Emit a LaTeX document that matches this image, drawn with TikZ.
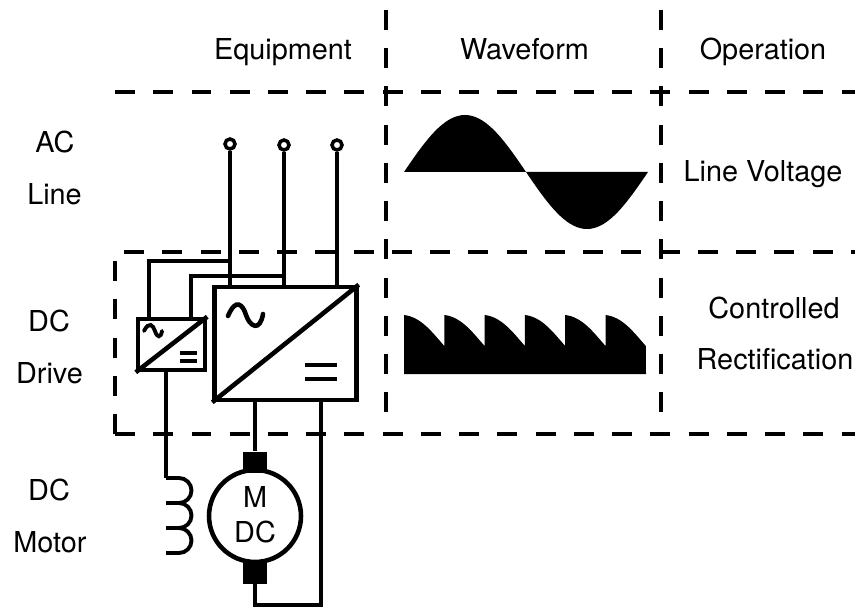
\documentclass[tikz,border=0pt]{standalone}
\usepackage{fontspec}
\setmainfont{TeX Gyre Heros}

\begin{document}
\begin{tikzpicture}
  [
    x=0.02cm,
    y=-0.02cm,
    wire/.style={
      line width=2.2pt
    },
    border/.style={
      line width=2.4pt,
      dash pattern=on 11.34pt off 10.43pt
    },
    converter/.style={
      draw,
      line width=2.6pt,
      inner sep=0pt
    },
    brush/.style={
      fill=black,
      inner sep=0pt,
      minimum width=0.48cm,
      minimum height=0.42cm
    },
    terminal/.style={
      circle,
      draw,
      line width=2pt,
      fill=white,
      inner sep=0pt,
      minimum size=0.2cm
    },
    label/.style={
      font=\fontsize{16.4}{20}\selectfont,
      anchor=base,
      inner sep=0pt
    }
  ]

  \useasboundingbox (0,0) rectangle (855,611);

  \draw [border] (115,92) -- (855,92);
  \draw [border] (115,434) -- (115,252) -- (855,252);
  \draw [border] (115,434) -- (855,434);
  \draw [border] (386,10) -- (386,415);
  \draw [border] (661,10) -- (661,415);

  \node [label] (equipment) at (283,60) {Equipment};
  \node [label] (waveform) at (524.5,60) {Waveform};
  \node [label] (operation) at (763,60) {Operation};
  \node [label] (acname) at (55,153) {AC};
  \node [label] (linename) at (54.5,205) {Line};
  \node [label] (dcname) at (49,331) {DC};
  \node [label] (drivename) at (49.5,383) {Drive};
  \node [label] (motordc) at (49,500) {DC};
  \node [label] (motorname) at (50,552) {Motor};
  \node [label] (linevolt) at (763,182) {Line Voltage};
  \node [label] (controlled) at (774,318) {Controlled};
  \node [label] (rectified) at (775,369) {Rectification};

  % waveforms
  \fill plot [domain=0:360,samples=73] ({404+\x/360*244},{172-57*sin(\x)}) -- cycle;
  \fill (404,374) -- (404,315)
    \foreach \e in {0,1,...,5} {
      -- ({404+\e*40.3},315) .. controls ({421+\e*40.3},317) and ({432+\e*40.3},332) .. ({444.3+\e*40.3},346)
    } -- (646,374) -- cycle;

  % main converter
  \node [converter,minimum width=2.84cm,minimum height=2.26cm] (main) at (285.5,343.5) {};
  \draw [converter] (main.south west) -- (main.north east);
  \draw [converter,line cap=round] (228,316) .. controls (236,297) and (243,305) .. (246,315)
    .. controls (250,327) and (260,332) .. (263,314);
  \draw [wire] (305,365) -- (337,365);
  \draw [wire] (305,379) -- (337,379);

  % small converter
  \node [converter,minimum width=1.34cm,minimum height=1.02cm] (aux) at (171.5,344.5) {};
  \draw [converter] (aux.south west) -- (aux.north east);
  \draw [wire,line cap=round] (144,331) .. controls (149,321) and (153,325) .. (155,331)
    .. controls (157,338) and (161,338) .. (162,331);
  \draw [wire] (180,353) -- (197,353);
  \draw [wire] (180,361) -- (197,361);

  % line terminals
  \node [terminal] (ta) at (230,144) {};
  \node [terminal] (tb) at (284,145) {};
  \node [terminal] (tc) at (337,145) {};
  \draw [wire] (ta) -- (ta |- main.north);
  \draw [wire] (tb) -- (tb |- main.north);
  \draw [wire] (tc) -- (tc |- main.north);

  \coordinate (feeda) at (230,261);
  \coordinate (feedb) at (284,276);
  \draw [wire] (feeda) -| (149,319);
  \draw [wire] (feedb) -| (191,319);

  % motor
  \node [circle,draw,line width=2.6pt,inner sep=0pt,minimum size=1.84cm] (motor) at (255,516) {};
  \node [label] (mname) at (255,507) {M};
  \node [label] (mdc) at (255,542) {DC};
  \node [brush] (top) at (255,462) {};
  \node [brush] (bottom) at (255,573) {};
  \draw [wire] (top.north) -- (top.north |- main.south);
  \coordinate (ret) at (321,605);
  \draw [wire] (bottom.south) |- (ret) -- (ret |- main.south);

  % field winding
  \coordinate (coil) at (166,478);
  \draw [wire] (coil) -- (coil |- aux.south);
  \draw [wire] (coil) -- (179,478) arc (-90:90:12.5) -- (166,503);
  \draw [wire] (179,503) arc (-90:90:12.5);
  \draw [wire] (166,528) -- (179,528) arc (-90:90:12.5) -- (166,553);

\end{tikzpicture}
\end{document}
